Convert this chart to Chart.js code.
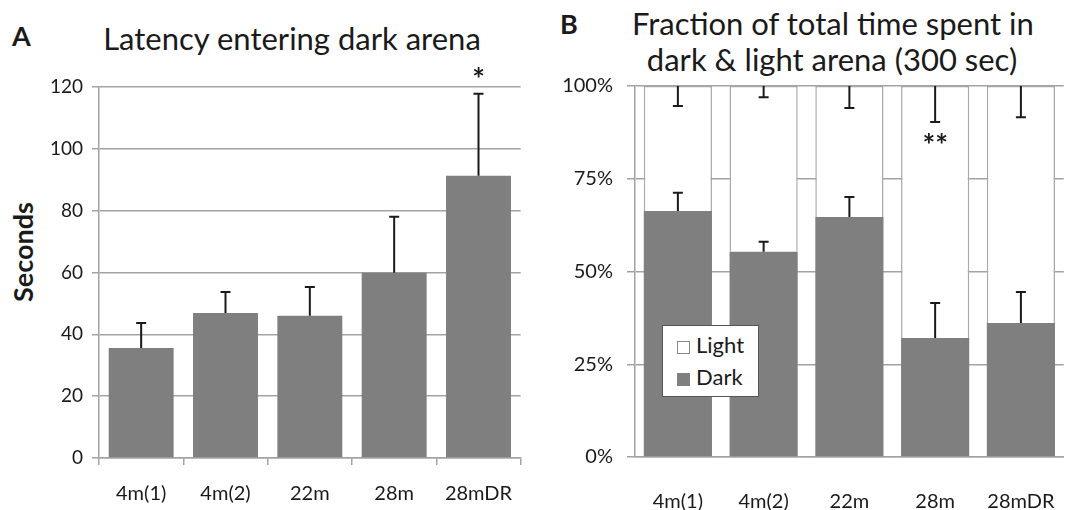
<!DOCTYPE html>
<html>
<head>
<meta charset="utf-8">
<script src="https://cdn.jsdelivr.net/npm/chart.js@4.4.1/dist/chart.umd.min.js"></script>
<style>
  html,body{margin:0;padding:0;background:#fff;overflow:hidden;width:1069px;height:510px;}
  body{position:relative;font-family:Lato,"Open Sans",sans-serif;color:#1a1a1a;}
  .box{position:absolute;}
  .letter{position:absolute;font-weight:bold;font-size:27px;line-height:1;}
  .title{position:absolute;font-size:31px;line-height:36px;text-align:center;white-space:nowrap;}
  #yTitleA{position:absolute;left:22px;top:252px;font-size:27px;font-weight:bold;white-space:nowrap;
    transform:translate(-50%,-50%) rotate(-90deg);}
  #legendB{position:absolute;left:662px;top:325px;width:97px;height:72px;border:1.5px solid #555;background:#fff;
    font-size:22px;box-sizing:border-box;padding:3px 0 0 14px;}
  #legendB div{height:32px;line-height:32px;}
  #legendB span.sw{display:inline-block;width:13px;height:13px;margin-right:6px;vertical-align:-1px;box-sizing:border-box;}
</style>
</head>
<body>
<div class="letter" style="left:12px;top:22px;">A</div>
<div class="title" style="left:92px;width:400px;top:20px;">Latency entering dark arena</div>
<div id="yTitleA">Seconds</div>
<div class="letter" style="left:560px;top:10px;">B</div>
<div class="title" style="left:632px;width:400px;top:5px;">Fraction of total time spent in<br>dark &amp; light arena (300 sec)</div>

<div class="box" style="left:0;top:0;width:530px;height:510px;"><canvas id="chartA"></canvas></div>
<div class="box" style="left:530px;top:0;width:550px;height:510px;"><canvas id="chartB"></canvas></div>
<div id="legendB"></div>

<script>
// groups on both panels
const groups = ['4m(1)', '4m(2)', '22m', '28m', '28mDR'];

// panel A: latency entering dark arena (seconds), mean and error
const latency    = [35.6, 46.9, 46.0, 59.9, 91.3];
const latencyErr = [8.1, 6.8, 9.3, 18.1, 26.5];
const latencySig = ['', '', '', '', '*'];
const latencyTicks = [0, 20, 40, 60, 80, 100, 120];

// panel B: fraction of time spent (%), stacked dark + light
const darkPct     = [66.3, 55.3, 64.7, 32.1, 36.1];
const darkErr     = [4.9, 2.7, 5.4, 9.4, 8.4];
const lightPct    = [33.7, 44.7, 35.3, 67.9, 63.9];
const lightErr    = [5.4, 3.0, 5.9, 9.7, 8.4];
const fractionSig = ['', '', '', '**', ''];
const fractionTicks = [0, 25, 50, 75, 100];

const FONT = 'Lato, "Open Sans", sans-serif';
const GREY = '#7f7f7f';
const GRID = '#a3a3a3';
const INK = '#1a1a1a';

// whiskers: up from the top of a bar (dir 1) or down from it (dir -1)
const errorBars = {
  id: 'errorBars',
  afterDatasetsDraw(chart, args, opts) {
    const {ctx, scales: {y}} = chart;
    const unit = y.getPixelForValue(0) - y.getPixelForValue(1);
    ctx.save();
    ctx.strokeStyle = INK;
    ctx.lineWidth = 2;
    (opts.sets || []).forEach(s => {
      const meta = chart.getDatasetMeta(s.dataset);
      meta.data.forEach((bar, i) => {
        const y0 = bar.y, y1 = bar.y - s.dir * s.err[i] * unit;
        ctx.beginPath();
        ctx.moveTo(bar.x, y0); ctx.lineTo(bar.x, y1);
        ctx.moveTo(bar.x - 5, y1); ctx.lineTo(bar.x + 5, y1);
        ctx.stroke();
        const mark = s.sig && s.sig[i];
        if (mark) {
          ctx.fillStyle = INK;
          ctx.font = 'bold 30px ' + FONT;
          ctx.textAlign = 'center';
          ctx.textBaseline = 'alphabetic';
          ctx.fillText(mark, bar.x, y1 - s.dir * s.sigGap);
        }
      });
    });
    ctx.restore();
  }
};

function fixWidth(w) { return scale => { scale.width = w; }; }
function fixHeight(h) { return scale => { scale.height = h; }; }

new Chart(document.getElementById('chartA'), {
  type: 'bar',
  data: {
    labels: groups,
    datasets: [{label: 'Seconds', data: latency, backgroundColor: GREY, borderWidth: 0,
      barPercentage: 0.77, categoryPercentage: 1}]
  },
  options: {
    responsive: true, maintainAspectRatio: false, animation: false,
    layout: {padding: {top: 87, right: 9, left: 0, bottom: 0}},
    plugins: {
      legend: {display: false}, tooltip: {enabled: false},
      errorBars: {sets: [{dataset: 0, err: latencyErr, dir: 1, sig: latencySig, sigGap: 4}]}
    },
    scales: {
      x: {
        afterFit: fixHeight(52),
        grid: {drawOnChartArea: false, drawTicks: true, tickLength: 7, color: GRID, lineWidth: 1.5},
        border: {color: GRID, width: 1.5},
        ticks: {color: INK, font: {family: FONT, size: 20}, padding: 17}
      },
      y: {
        min: 0, max: 120,
        afterFit: fixWidth(99),
        afterBuildTicks: s => { s.ticks = latencyTicks.map(v => ({value: v})); },
        grid: {color: GRID, lineWidth: 1.5, tickLength: 7},
        border: {color: GRID, width: 1.5},
        ticks: {color: INK, font: {family: FONT, size: 19}, padding: 9}
      }
    }
  },
  plugins: [errorBars]
});

const chartB = new Chart(document.getElementById('chartB'), {
  type: 'bar',
  data: {
    labels: groups,
    datasets: [
      {label: 'Dark', data: darkPct, backgroundColor: GREY, borderWidth: 0,
        barPercentage: 0.795, categoryPercentage: 1},
      {label: 'Light', data: lightPct, backgroundColor: '#ffffff', borderColor: '#a8a8a8', borderWidth: 1.5,
        barPercentage: 0.795, categoryPercentage: 1}
    ]
  },
  options: {
    responsive: true, maintainAspectRatio: false, animation: false,
    layout: {padding: {top: 86, right: 5, left: 0, bottom: 0}},
    plugins: {
      legend: {display: false}, tooltip: {enabled: false},
      errorBars: {sets: [
        {dataset: 0, err: darkErr, dir: 1},
        {dataset: 1, err: lightErr, dir: -1, sig: fractionSig, sigGap: 34}
      ]}
    },
    scales: {
      x: {
        stacked: true,
        afterFit: fixHeight(53),
        grid: {display: false},
        border: {color: GRID, width: 1.5},
        ticks: {color: INK, font: {family: FONT, size: 20}, padding: 25}
      },
      y: {
        stacked: true, min: 0, max: 100,
        afterFit: fixWidth(105),
        afterBuildTicks: s => { s.ticks = fractionTicks.map(v => ({value: v})); },
        grid: {color: GRID, lineWidth: 1.5, tickLength: 8},
        border: {color: GRID, width: 1.5},
        ticks: {color: INK, font: {family: FONT, size: 20}, padding: 14, callback: v => v + '%'}
      }
    }
  },
  plugins: [errorBars]
});

// HTML legend, light first as in the figure
const legendB = document.getElementById('legendB');
[...chartB.data.datasets].reverse().forEach(ds => {
  const row = document.createElement('div');
  const sw = document.createElement('span');
  sw.className = 'sw';
  sw.style.background = ds.backgroundColor;
  sw.style.border = ds.label === 'Light' ? '1.5px solid #888' : 'none';
  row.appendChild(sw);
  row.appendChild(document.createTextNode(ds.label));
  legendB.appendChild(row);
});
</script>
</body>
</html>
